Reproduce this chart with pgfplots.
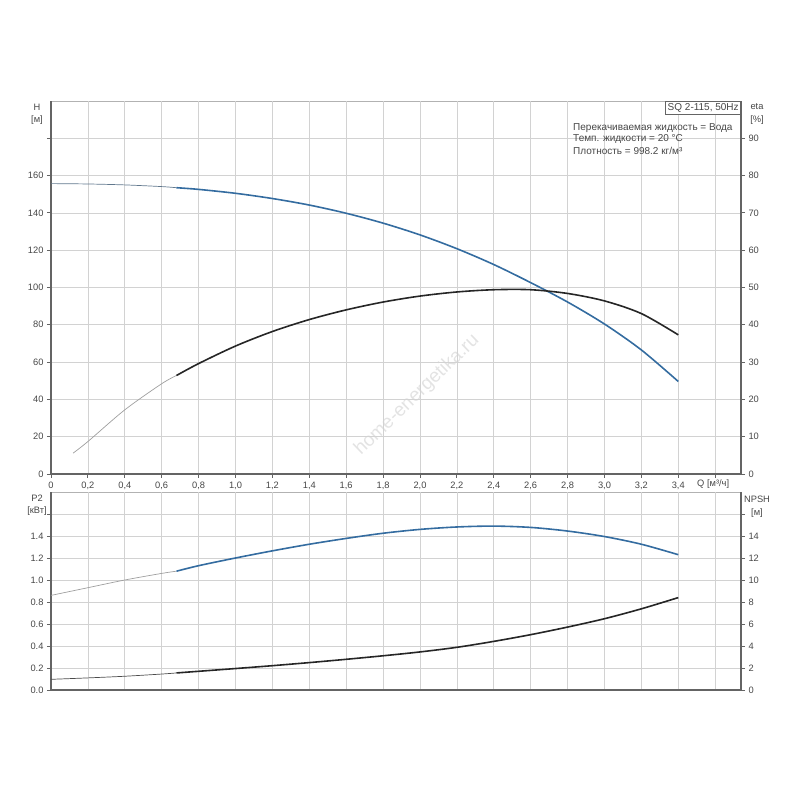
\documentclass[border=0pt]{standalone}
\usepackage{fontspec}
\setmainfont{Liberation Sans}
\usepackage{pgfplots}
\pgfplotsset{compat=1.18}
\definecolor{hblue}{RGB}{52,108,160}
\definecolor{axgray}{RGB}{100,100,100}
\definecolor{gridgray}{RGB}{210,210,210}
\definecolor{txt}{RGB}{70,70,70}
\newcommand{\fs}{\fontsize{9.3bp}{11bp}\selectfont}
\newcommand{\fb}{\fontsize{10bp}{12bp}\selectfont}
\pgfplotsset{
  base/.style={
    scale only axis, anchor=south west,
    width=690bp, xmin=0, xmax=3.74,
    /pgf/number format/assume math mode=true,
    tick label style={font=\fs, text=txt},
    xticklabel style={text height=7bp, text depth=2bp},
    axis line style={-, axgray, line width=1.3bp},
    every outer x axis line/.append style={-},
    every outer y axis line/.append style={-},
    tick style={axgray, line width=0.8bp},
    tick align=outside, major tick length=4bp,
    grid style={gridgray, line width=0.6bp},
    clip=false,
  },
  thin/.style={gray!75, line width=0.7bp, smooth, no markers},
  thickb/.style={hblue, line width=1.6bp, smooth, no markers},
  thickk/.style={black!85, line width=1.6bp, smooth, no markers},
}
\begin{document}
\begin{tikzpicture}[x=1bp,y=1bp]
\path[use as bounding box] (0,0) rectangle (800,800);
\draw[gridgray!85!black, line width=0.6bp] (51,699) -- (741,699);
\draw[gridgray!85!black, line width=0.6bp] (51,308) -- (741,308);
\node[font=\fontsize{19bp}{21bp}\selectfont, text=black!11, rotate=44, inner sep=0pt] at (417,405) {home-energetika.ru};
% ---------------- top panel
\begin{axis}[base, at={(51bp,326bp)}, height=373bp,
  ymin=0, ymax=200,
  axis x line*=bottom, axis y line*=left,
  xtick={0,0.2,0.4,0.6,0.8,1.0,1.2,1.4,1.6,1.8,2.0,2.2,2.4,2.6,2.8,3.0,3.2,3.4,3.6},
  xticklabels={0,{0,2},{0,4},{0,6},{0,8},{1,0},{1,2},{1,4},{1,6},{1,8},{2,0},{2,2},{2,4},{2,6},{2,8},{3,0},{3,2},{3,4},},
  ytick={0,20,40,60,80,100,120,140,160,180},
  yticklabels={0,20,40,60,80,100,120,140,160,},
  grid=major,
]
\addplot[thin, gray!60!hblue] coordinates {
(0,155.7) (0.2,155.5) (0.4,155.0) (0.6,154.1) (0.68,153.5)};
\addplot[thickb] coordinates {
(0.68,153.5) (0.8,152.6) (1.0,150.5) (1.2,147.7) (1.4,144.2) (1.6,139.8)
(1.8,134.5) (2.0,128.2) (2.2,120.8) (2.4,112.3) (2.6,102.6) (2.8,92.2)
(3.0,80.4) (3.2,66.5) (3.4,49.6)};
\end{axis}
\begin{axis}[base, at={(51bp,326bp)}, height=373bp,
  ymin=0, ymax=100,
  axis x line=none, axis y line*=right,
  ytick={0,10,20,30,40,50,60,70,80,90},
]
\addplot[thin] coordinates {
(0.12,5.6) (0.2,8.7) (0.4,17.2) (0.6,24.2) (0.68,26.4)};
\addplot[thickk] coordinates {
(0.68,26.4) (0.8,29.6) (1.0,34.3) (1.2,38.2) (1.4,41.4) (1.6,44.0)
(1.8,46.1) (2.0,47.7) (2.2,48.8) (2.4,49.4) (2.6,49.4) (2.8,48.4)
(3.0,46.4) (3.2,43.0) (3.4,37.3)};
\end{axis}
% ---------------- bottom panel
\begin{axis}[base, at={(51bp,110bp)}, height=198bp,
  ymin=0, ymax=1.8,
  axis x line*=bottom, axis y line*=left,
  xtick={0,0.2,0.4,0.6,0.8,1.0,1.2,1.4,1.6,1.8,2.0,2.2,2.4,2.6,2.8,3.0,3.2,3.4,3.6},
  xticklabels={},
  major x tick style={draw=none},
  ytick={0,0.2,0.4,0.6,0.8,1.0,1.2,1.4,1.6},
  yticklabels={0.0,0.2,0.4,0.6,0.8,1.0,1.2,1.4,},
  grid=major,
]
\addplot[thin] coordinates {
(0,0.86) (0.2,0.93) (0.4,1.00) (0.6,1.06) (0.68,1.08)};
\addplot[thickb] coordinates {
(0.68,1.08) (0.8,1.13) (1.0,1.20) (1.2,1.265) (1.4,1.325) (1.6,1.378)
(1.8,1.425) (2.0,1.46) (2.2,1.482) (2.4,1.49) (2.6,1.478) (2.8,1.445)
(3.0,1.395) (3.2,1.325) (3.4,1.23)};
\end{axis}
\begin{axis}[base, at={(51bp,110bp)}, height=198bp,
  ymin=0, ymax=18,
  axis x line=none, axis y line*=right,
  ytick={0,2,4,6,8,10,12,14,16},
  yticklabels={0,2,4,6,8,10,12,14,},
]
\addplot[thin, gray!60!black] coordinates {
(0,0.97) (0.2,1.1) (0.4,1.25) (0.6,1.45) (0.68,1.55)};
\addplot[thickk] coordinates {
(0.68,1.55) (0.8,1.70) (1.0,1.95) (1.2,2.21) (1.4,2.49) (1.6,2.79)
(1.8,3.11) (2.0,3.46) (2.2,3.88) (2.4,4.42) (2.6,5.03) (2.8,5.72)
(3.0,6.48) (3.2,7.38) (3.4,8.4)};
\end{axis}
% ---------------- labels
\begin{scope}[every node/.style={font=\fs, text=txt, inner sep=0pt}]
\node at (37,693) {H};
\node at (37,680) {[м]};
\node at (757,693) {eta};
\node at (757,680) {[\%]};
\node at (37,302) {P2};
\node at (37,289) {[кВт]};
\node at (757,301) {NPSH};
\node at (757,287) {[м]};
\node[anchor=west] at (697,316) {Q [м³/ч]};
\node[draw=axgray, fill=white, line width=0.6bp, inner sep=2bp, anchor=north east, font=\fb] at (741,699) {SQ 2-115, 50Hz};
\node[anchor=west, font=\fb] at (573,672) {Перекачиваемая жидкость = Вода};
\node[anchor=west, font=\fb] at (573,661) {Темп. жидкости = 20 °C};
\node[anchor=west, font=\fb] at (573,649) {Плотность = 998.2 кг/м³};
\end{scope}
\end{tikzpicture}
\end{document}
